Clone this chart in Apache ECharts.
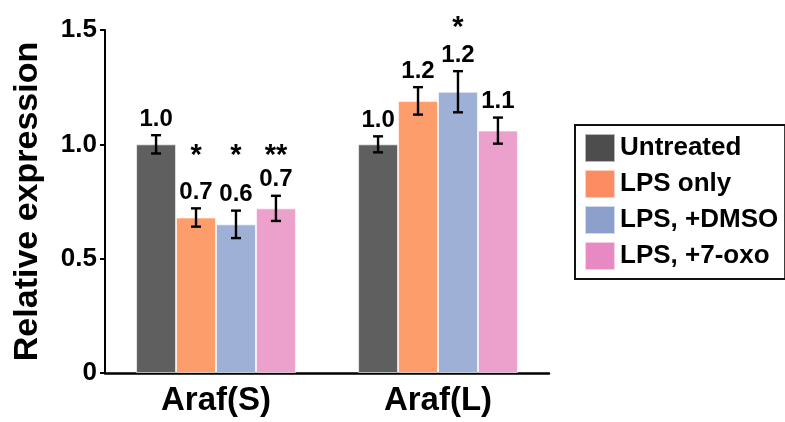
<!DOCTYPE html>
<html>
<head>
<meta charset="utf-8">
<script src="https://cdn.jsdelivr.net/npm/echarts@6/dist/echarts.min.js"></script>
<style>html,body{margin:0;padding:0;background:#fff}#c{width:785px;height:422px}</style>
</head>
<body>
<div id="c"></div>
<script>
var categories = ['Araf(S)', 'Araf(L)'];
var seriesNames = ['Untreated', 'LPS only', 'LPS, +DMSO', 'LPS, +7-oxo'];
var untreated = [1.00, 1.00];
var lpsOnly = [0.68, 1.19];
var lpsDmso = [0.65, 1.23];
var lps7oxo = [0.72, 1.06];
var errUntreated = [0.04, 0.035];
var errLpsOnly = [0.04, 0.06];
var errLpsDmso = [0.06, 0.09];
var errLps7oxo = [0.055, 0.057];
var labelsUntreated = ['1.0', '1.0'];
var labelsLpsOnly = ['0.7', '1.2'];
var labelsLpsDmso = ['0.6', '1.2'];
var labelsLps7oxo = ['0.7', '1.1'];
var starsUntreated = ['', ''];
var starsLpsOnly = ['*', ''];
var starsLpsDmso = ['*', '*'];
var starsLps7oxo = ['**', ''];
var starLevel = [0.95, 1.51];
var yTicks = [0, 0.5, 1.0, 1.5];

var legendColors = ['#4d4d4d', '#fc8d62', '#8da0cb', '#e78ac3'];
var barColors = ['#5f5f5f', '#fc9d6b', '#9fb0d6', '#eca0cc'];
var FONT = '"Liberation Sans", Arial, sans-serif';

var means = [untreated, lpsOnly, lpsDmso, lps7oxo];
var errs = [errUntreated, errLpsOnly, errLpsDmso, errLps7oxo];
var labels = [labelsUntreated, labelsLpsOnly, labelsLpsDmso, labelsLps7oxo];
var stars = [starsUntreated, starsLpsOnly, starsLpsDmso, starsLps7oxo];
var CAT_GAP = 0.28;

var annData = [];
for (var c = 0; c < categories.length; c++) {
  for (var s = 0; s < seriesNames.length; s++) {
    annData.push([c, s, means[s][c], errs[s][c], labels[s][c], stars[s][c], starLevel[c]]);
  }
}

var series = seriesNames.map(function (n, i) {
  return {
    name: n, type: 'bar', data: means[i],
    barGap: '0%', barCategoryGap: (CAT_GAP * 100) + '%',
    itemStyle: { color: barColors[i], borderColor: 'rgba(255,255,255,0.6)', borderWidth: 1 },
    z: 2
  };
});

series.push({
  type: 'custom', name: 'ann', clip: false, silent: true, z: 5,
  data: annData,
  encode: { x: 0, y: 2 },
  renderItem: function (params, api) {
    var c = api.value(0), s = api.value(1), m = api.value(2), e = api.value(3);
    var lab = annData[params.dataIndex][4];
    var star = annData[params.dataIndex][5];
    var sl = api.value(6);
    var band = api.size([1, 0])[0];
    var gw = band * (1 - CAT_GAP);
    var bw = gw / 4;
    var base = api.coord([c, 0]);
    var x = base[0] - gw / 2 + bw * (s + 0.5);
    var yTop = api.coord([c, m + e])[1];
    var yBot = api.coord([c, m - e])[1];
    var cap = 5;
    var st = { stroke: '#000', lineWidth: 2.4 };
    var children = [
      { type: 'line', shape: { x1: x, y1: yTop, x2: x, y2: yBot }, style: st },
      { type: 'line', shape: { x1: x - cap, y1: yTop, x2: x + cap, y2: yTop }, style: st },
      { type: 'line', shape: { x1: x - cap, y1: yBot, x2: x + cap, y2: yBot }, style: st },
      { type: 'text', x: x, y: yTop - 16, style: { text: lab, fill: '#000', font: 'bold 24px ' + FONT, textAlign: 'center', textVerticalAlign: 'middle' } }
    ];
    if (star) {
      var ys = api.coord([c, sl])[1];
      children.push({ type: 'text', x: x, y: ys, style: { text: star, fill: '#000', font: 'bold 29px ' + FONT, textAlign: 'center', textVerticalAlign: 'middle' } });
    }
    return { type: 'group', children: children };
  }
});

var chart = echarts.init(document.getElementById('c'));
chart.setOption({
  animation: false,
  backgroundColor: '#fff',
  grid: { left: 105, right: 236, top: 30, bottom: 49, containLabel: false },
  legend: {
    data: seriesNames.map(function (n, i) { return { name: n, itemStyle: { color: legendColors[i], opacity: 1 } }; }),
    orient: 'vertical', left: 575, top: 125,
    itemWidth: 30, itemHeight: 28, itemGap: 6,
    padding: [8, 7, 8, 9],
    borderColor: '#111', borderWidth: 2,
    textStyle: { fontFamily: FONT, fontWeight: 'bold', fontSize: 26, color: '#000', padding: [0, 0, 0, 0] },
    icon: 'rect'
  },
  xAxis: {
    type: 'category', data: categories,
    axisLine: { lineStyle: { color: '#000', width: 2.5 } },
    axisTick: { show: false },
    axisLabel: { fontFamily: FONT, fontWeight: 'bold', fontSize: 33, color: '#000', margin: 11 }
  },
  yAxis: {
    type: 'value', min: 0, max: 1.5, interval: 0.5,
    name: 'Relative expression', nameLocation: 'middle', nameGap: 60, nameRotate: 90,
    nameTextStyle: { fontFamily: FONT, fontWeight: 'bold', fontSize: 34, color: '#000' },
    axisLine: { show: true, lineStyle: { color: '#000', width: 2 } },
    axisTick: { show: true, length: 5, lineStyle: { color: '#000', width: 2 } },
    splitLine: { show: false },
    axisLabel: {
      fontFamily: FONT, fontWeight: 'bold', fontSize: 26, color: '#000', margin: 8,
      formatter: function (v) { return v === yTicks[0] ? '0' : v.toFixed(1); }
    }
  },
  series: series
});
</script>
</body>
</html>
